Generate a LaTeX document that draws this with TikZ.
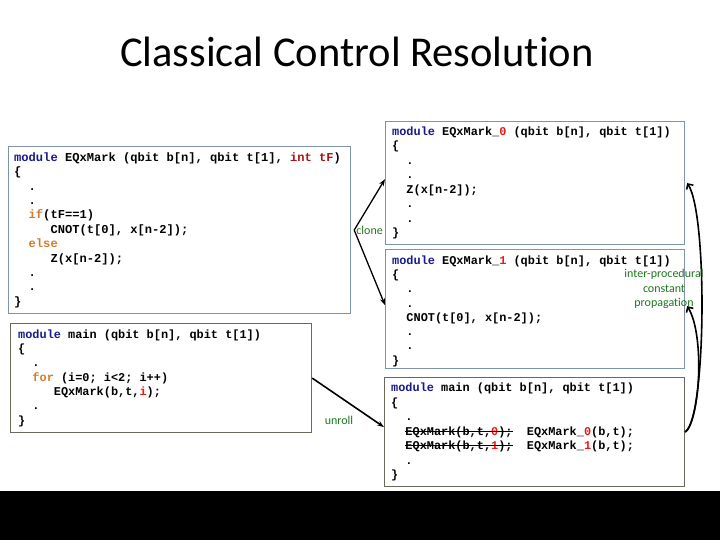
\documentclass[tikz,border=0pt]{standalone}
\usepackage{fontspec}
\usepackage{tikz}
\setmainfont{Carlito}[Ligatures={NoCommon}]
\newfontfamily\codefont{Liberation Mono}
\usetikzlibrary{arrows.meta, positioning}
\definecolor{keyBlue}{RGB}{25, 25, 140}
\definecolor{intRed}{RGB}{165, 20, 20}
\definecolor{ctlOrange}{RGB}{210, 125, 45}
\definecolor{idxRed}{RGB}{230, 25, 25}
\definecolor{noteGreen}{RGB}{30, 120, 30}
\definecolor{frameBlue}{RGB}{125, 148, 172}
\definecolor{frameGray}{RGB}{105, 105, 92}
\newsavebox\strikebox
\newcommand{\strike}[1]{\sbox\strikebox{#1}\rlap{\usebox\strikebox}\rule[0.28em]{\wd\strikebox}{1.1pt}}
\newcommand{\sk}[1]{\hspace*{#1\dimexpr0.6em\relax}}
\newcommand{\kw}[1]{\textcolor{keyBlue}{#1}}
\newcommand{\ctl}[1]{\textcolor{ctlOrange}{#1}}
\newcommand{\idx}[1]{\textcolor{idxRed}{#1}}

\begin{document}
\begin{tikzpicture}[x=1pt, y=-1pt,
    codebox/.style={draw, line width=1.2pt, fill=white, anchor=north west, inner sep=0pt},
    codetext/.style={align=left, inner sep=0pt, font=\codefont\bfseries\fontsize{11.9}{14.5}\selectfont},
    note/.style={text=noteGreen, inner sep=1pt, font=\fontsize{12}{14.5}\selectfont},
    linkarrow/.style={-{Stealth[length=7pt, width=5pt]}, line width=1.3pt},
    proparrow/.style={-{Straight Barb[length=4pt, width=8pt]}, line width=1.6pt}]
    \useasboundingbox (0,0) rectangle (720,540);

    % Title
    \node[font=\fontsize{42.5}{50}\selectfont] (title) at (357,52) {Classical Control Resolution};

    % Original modules
    \node[codebox, draw=frameBlue, minimum width=342pt, minimum height=167pt] (markbox) at (8,146) {};
    \node[codetext, font=\codefont\bfseries\fontsize{12.1}{14.4}\selectfont, right=6pt of markbox.west] (markcode) {%
        \kw{module} EQxMark (qbit b[n], qbit t[1], \textcolor{intRed}{int tF})\\
        \{\\
        \sk{2}.\\
        \sk{2}.\\
        \sk{2}\ctl{if}(tF==1)\\
        \sk{5}CNOT(t[0], x[n-2]);\\
        \sk{2}\ctl{else}\\
        \sk{5}Z(x[n-2]);\\
        \sk{2}.\\
        \sk{2}.\\
        \}};

    \node[codebox, draw=frameGray, minimum width=301pt, minimum height=109pt] (mainbox) at (10,323) {};
    \node[codetext, font=\codefont\bfseries\fontsize{11.9}{14.3}\selectfont, right=8pt of mainbox.west] (maincode) {%
        \kw{module} main (qbit b[n], qbit t[1])\\
        \{\\
        \sk{2}.\\
        \sk{2}\ctl{for} (i=0; i<2; i++)\\
        \sk{5}EQxMark(b,t,\idx{i});\\
        \sk{2}.\\
        \}};

    % Resolved modules
    \node[codebox, draw=frameBlue, minimum width=299pt, minimum height=123pt] (zerobox) at (385,121) {};
    \node[codetext, right=7pt of zerobox.west] (zerocode) {%
        \kw{module} EQxMark\_\idx{0} (qbit b[n], qbit t[1])\\
        \{\\
        \sk{2}.\\
        \sk{2}.\\
        \sk{2}Z(x[n-2]);\\
        \sk{2}.\\
        \sk{2}.\\
        \}};

    \node[codebox, draw=frameBlue, minimum width=299pt, minimum height=119pt] (onebox) at (385,249) {};
    \node[codetext, font=\codefont\bfseries\fontsize{11.9}{14.3}\selectfont, right=7pt of onebox.west, yshift=-2pt] (onecode) {%
        \kw{module} EQxMark\_\idx{1} (qbit b[n], qbit t[1])\\
        \{\\
        \sk{2}.\\
        \sk{2}.\\
        \sk{2}CNOT(t[0], x[n-2]);\\
        \sk{2}.\\
        \sk{2}.\\
        \}};

    \node[codebox, draw=frameGray, minimum width=300pt, minimum height=109pt] (unrollbox) at (384,377) {};
    \node[codetext, right=7pt of unrollbox.west] (unrollcode) {%
        \kw{module} main (qbit b[n], qbit t[1])\\
        \{\\
        \sk{2}.\\
        \sk{2}\strike{EQxMark(b,t,\idx{0});}\sk{2}EQxMark\_\idx{0}(b,t);\\
        \sk{2}\strike{EQxMark(b,t,\idx{1});}\sk{2}EQxMark\_\idx{1}(b,t);\\
        \sk{2}.\\
        \}};

    % Clone and unroll
    \coordinate (fork) at ([xshift=3pt]markbox.east);
    \draw[linkarrow] (fork) -- ([yshift=4pt]zerobox.west);
    \draw[linkarrow] (fork) -- ([yshift=4pt]onebox.west);
    \node[note, right=1pt of fork] (clonelabel) {clone};

    \draw[linkarrow, line width=1.6pt] (mainbox.east) -- ([yshift=5pt]unrollbox.west);
    \node[note] (unrolllabel) at (339,420) {unroll};

    % Constant propagation
    \draw[proparrow] (unrollbox.east) .. controls (706,420) and (708,215) .. ([xshift=2pt]zerobox.east);
    \draw[proparrow] (unrollbox.east) .. controls (700,420) and (705,335) .. ([xshift=2pt, yshift=3pt]onebox.east);
    \node[note, align=center] (proplabel) at (664,289) {inter-procedural\\constant\\propagation};

    % Bottom band
    \fill[black] (0,491) rectangle (720,540);
\end{tikzpicture}
\end{document}
